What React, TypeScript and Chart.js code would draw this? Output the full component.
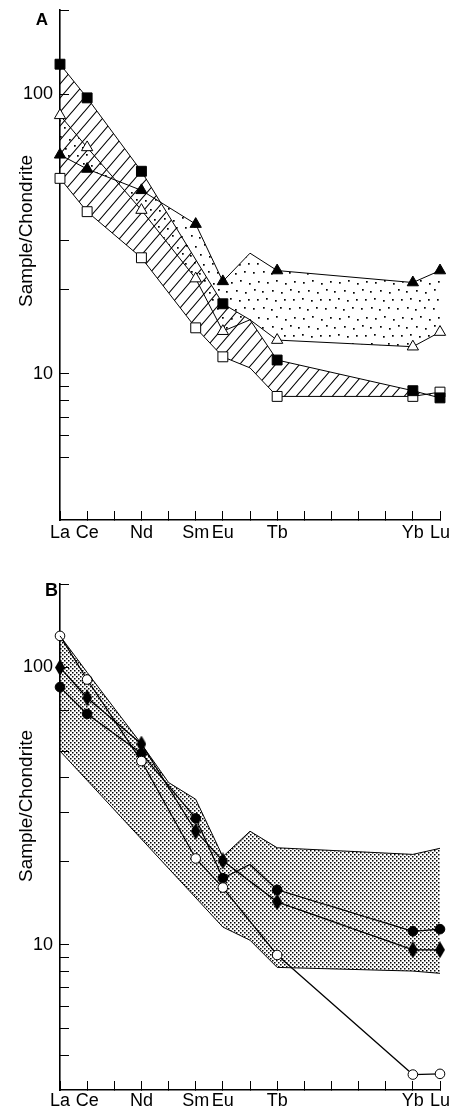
import React, { useEffect, useRef } from 'react';
import { Chart, registerables } from 'chart.js';

Chart.register(...registerables);

// ---- categories / ticks ----
const elements = ['La', 'Ce', 'Pr', 'Nd', 'Pm', 'Sm', 'Eu', 'Gd', 'Tb', 'Dy', 'Ho', 'Er', 'Tm', 'Yb', 'Lu'];
const labeledElements = ['La', 'Ce', 'Nd', 'Sm', 'Eu', 'Tb', 'Yb', 'Lu'];
const vertexOnlyElements = ['Gd']; // line vertices drawn without a marker
const yLabelValues = [10, 100];
const yTicksA = [5, 6, 7, 8, 9, 10, 20, 30, 100, 200];
const yTicksB = [4, 5, 6, 7, 8, 9, 10, 20, 30, 40, 50, 70, 100, 200];
const yMin = 3;
const yMax = 200;
const yTitle = 'Sample/Chondrite';

// ---- panel A series (index = element) ----
const aFilledSquare = [128, 97, null, 53, null, null, 17.8, 15.6, 11.2, null, null, null, null, 8.7, 8.2];
const aOpenSquare = [50, 38, null, 26, null, 14.6, 11.5, 10.5, 8.3, null, null, null, null, 8.3, 8.6];
const aFilledTriangle = [60.7, 54, null, 45.3, null, 34.3, 21.4, 27, 23.4, null, null, null, null, 21.2, 23.4];
const aOpenTriangle = [84, 64.5, null, 38.5, null, 21.9, 14.2, 15.6, 13.2, null, null, null, null, 12.5, 14.1];

// ---- panel B series ----
const bEnvelopeUpper = [130, 96, null, 53, 38.5, 33.5, 20.8, 25.7, 22.4, null, null, null, null, 21.2, 22.3];
const bEnvelopeLower = [50, null, null, null, null, null, 11.6, 10.4, 8.3, null, null, null, null, 8.05, 7.9];
const bOpenCircle = [130, 90.5, null, 46, null, 20.5, 16.1, null, 9.2, null, null, null, null, 3.41, 3.43];
const bFilledCircle = [85, 68, null, 49, null, 28.6, 17.4, 19.5, 15.8, null, null, null, null, 11.2, 11.4];
const bDiamond = [100, 77.8, null, 53, null, 25.7, 20.1, null, 14.3, null, null, null, null, 9.6, 9.6];

type Pt = { x: number; y: number };
const pts = (arr: (number | null)[]): Pt[] =>
  arr.map((v, i) => (v == null ? null : { x: i, y: v })).filter((p): p is Pt => p !== null);
const radii = (arr: (number | null)[], r: number) =>
  pts(arr).map((p) => (vertexOnlyElements.includes(elements[p.x]) ? 0 : r));

const FONT = "'Liberation Sans', Arial, Helvetica, sans-serif";

function makeHatch(): CanvasPattern {
  const w = 12, h = 14;
  const c = document.createElement('canvas');
  c.width = w; c.height = h;
  const g = c.getContext('2d')!;
  g.strokeStyle = '#000';
  g.lineWidth = 1.1;
  g.beginPath();
  for (const k of [0, 1, 2]) {
    // line x/w + y/h = k
    g.moveTo(-w, (k + 1) * h);
    g.lineTo((k + 1) * w, -h);
  }
  g.stroke();
  return g.createPattern(c, 'repeat')!;
}

function makeDots(): CanvasPattern {
  const s = 36;
  const c = document.createElement('canvas');
  c.width = s; c.height = s;
  const g = c.getContext('2d')!;
  g.fillStyle = '#000';
  const dots = [
    [2, 1], [10, 3], [20, 2], [29, 4],
    [5, 11], [14, 10], [23, 12], [32, 11],
    [1, 20], [11, 19], [19, 21], [28, 19],
    [6, 29], [15, 30], [24, 28], [33, 31],
  ];
  for (const [x, y] of dots) g.fillRect(x, y, 1.7, 1.7);
  return g.createPattern(c, 'repeat')!;
}

function makeStipple(): CanvasPattern {
  const s = 4;
  const c = document.createElement('canvas');
  c.width = s; c.height = s;
  const g = c.getContext('2d')!;
  g.fillStyle = '#000';
  g.fillRect(0, 0, 1.5, 1.5);
  g.fillRect(2, 2, 1.5, 1.5);
  return g.createPattern(c, 'repeat')!;
}

function makeDiamond(): HTMLCanvasElement {
  const w = 10, h = 17;
  const c = document.createElement('canvas');
  c.width = w; c.height = h;
  const g = c.getContext('2d')!;
  g.fillStyle = '#000';
  g.beginPath();
  g.moveTo(w / 2, 0);
  g.lineTo(w, h / 2);
  g.lineTo(w / 2, h);
  g.lineTo(0, h / 2);
  g.closePath();
  g.fill();
  return c;
}

function series(arr: (number | null)[], style: any, fillColor: string, r: number, extra: any = {}) {
  return {
    data: pts(arr),
    borderColor: '#000',
    borderWidth: 1,
    pointStyle: style,
    pointRadius: radii(arr, r),
    pointHoverRadius: radii(arr, r),
    pointBackgroundColor: fillColor,
    pointBorderColor: '#000',
    pointBorderWidth: 1,
    fill: false,
    clip: false,
    tension: 0,
    ...extra,
  };
}

function makeConfig(datasets: any[], yTicks: number[], padTop: number, xHeight: number, xPad: number): any {
  const gridOpts = {
    display: true,
    drawOnChartArea: false,
    drawTicks: true,
    tickLength: -9,
    tickColor: '#000',
    tickWidth: 1,
    color: '#000',
  };
  return {
    type: 'line',
    data: { datasets },
    options: {
      responsive: false,
      animation: false,
      events: [],
      layout: { padding: { top: padTop, right: 15, left: 0, bottom: 0 } },
      plugins: {
        legend: { display: false },
        tooltip: { enabled: false },
        filler: { drawTime: 'beforeDatasetsDraw' },
      },
      scales: {
        x: {
          type: 'linear',
          min: 0,
          max: elements.length - 1,
          afterBuildTicks: (s: any) => {
            s.ticks = elements.map((_, i) => ({ value: i }));
          },
          afterFit: (s: any) => {
            s.height = xHeight;
            s.paddingLeft = 0;
            s.paddingRight = 0;
          },
          ticks: {
            autoSkip: false,
            maxRotation: 0,
            minRotation: 0,
            padding: xPad,
            color: '#000',
            font: { size: 18, family: FONT },
            callback: (v: number) => (labeledElements.includes(elements[v]) ? elements[v] : ''),
          },
          grid: gridOpts,
          border: { display: true, color: '#000', width: 1.6 },
        },
        y: {
          type: 'logarithmic',
          min: yMin,
          max: yMax,
          afterBuildTicks: (s: any) => {
            s.ticks = yTicks.map((v) => ({ value: v }));
          },
          afterFit: (s: any) => {
            s.width = 60;
            s.paddingTop = 0;
            s.paddingBottom = 0;
          },
          ticks: {
            autoSkip: false,
            padding: 16,
            color: '#000',
            font: { size: 18, family: FONT },
            callback: (v: number) => (yLabelValues.includes(v) ? String(v) : ''),
          },
          grid: gridOpts,
          border: { display: true, color: '#000', width: 1.6 },
        },
      },
    },
  };
}

export default function App() {
  const refA = useRef<HTMLCanvasElement>(null);
  const refB = useRef<HTMLCanvasElement>(null);

  useEffect(() => {
    Chart.defaults.font.family = FONT;
    Chart.defaults.color = '#000';
    const hatch = makeHatch();
    const dots = makeDots();
    const stipple = makeStipple();
    const diamond = makeDiamond();

    const dsA = [
      series(aFilledSquare, 'rect', '#000', 7, { fill: { target: 1, above: hatch, below: hatch } }),
      series(aOpenSquare, 'rect', '#fff', 7),
      series(aFilledTriangle, 'triangle', '#000', 6.5, { fill: { target: 3, above: dots, below: dots } }),
      series(aOpenTriangle, 'triangle', '#fff', 6.5),
    ];
    const dsB = [
      series(bEnvelopeUpper, 'circle', '#000', 0, { fill: { target: 1, above: stipple, below: stipple } }),
      series(bEnvelopeLower, 'circle', '#000', 0),
      series(bOpenCircle, 'circle', '#fff', 4.8, { borderWidth: 1.2 }),
      series(bFilledCircle, 'circle', '#000', 4.8, { borderWidth: 1.2 }),
      series(bDiamond, diamond, '#000', 6, { borderWidth: 1.2 }),
    ];

    const chartA = new Chart(refA.current!, makeConfig(dsA, yTicksA, 10, 35, 11));
    const chartB = new Chart(refB.current!, makeConfig(dsB, yTicksB, 28, 21, 9));
    return () => {
      chartA.destroy();
      chartB.destroy();
    };
  }, []);

  const textBase: React.CSSProperties = {
    position: 'absolute',
    fontFamily: FONT,
    color: '#000',
    whiteSpace: 'nowrap',
    lineHeight: 1,
    transform: 'translate(-50%, -50%)',
  };

  return (
    <div style={{ position: 'absolute', left: 0, top: 0, width: 455, height: 1111, background: '#fff' }}>
      <canvas ref={refA} width={455} height={555} style={{ position: 'absolute', left: 0, top: 0 }} />
      <canvas ref={refB} width={455} height={555} style={{ position: 'absolute', left: 0, top: 556 }} />
      <div style={{ ...textBase, left: 42, top: 18.5, fontSize: 17, fontWeight: 'bold' }}>A</div>
      <div style={{ ...textBase, left: 51.5, top: 590, fontSize: 18, fontWeight: 'bold' }}>B</div>
      <div style={{ ...textBase, left: 25, top: 231, fontSize: 19, transform: 'translate(-50%, -50%) rotate(-90deg)' }}>
        {yTitle}
      </div>
      <div style={{ ...textBase, left: 25, top: 806, fontSize: 19, transform: 'translate(-50%, -50%) rotate(-90deg)' }}>
        {yTitle}
      </div>
    </div>
  );
}
